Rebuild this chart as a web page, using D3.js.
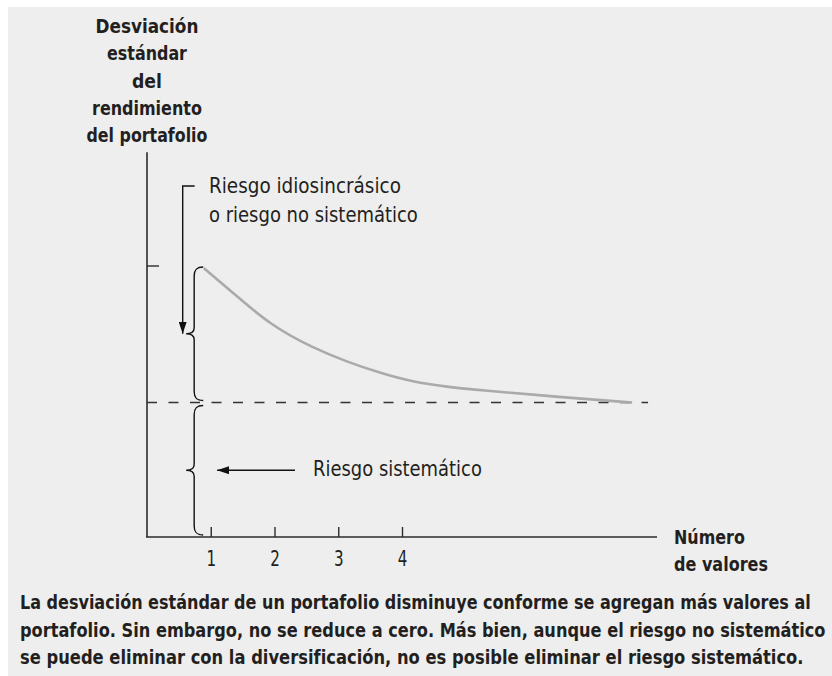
<!DOCTYPE html>
<html lang="es">
<head>
    <meta charset="UTF-8">
    <title>Riesgo y diversificación</title>
    <script src="https://d3js.org/d3.v7.min.js"></script>
    <style>
        body { margin: 0; background: #fff; }
        svg { display: block; }
        text { font-family: "Liberation Sans Narrow", "Arial Narrow", "DejaVu Sans Condensed", "DejaVu Sans", sans-serif; fill: #231f20; }
        .bold { font-weight: bold; }
    </style>
</head>
<body>
    <svg></svg>
    <script>
        // number of securities vs portfolio std deviation
        const numValores = [0.89, 1.30, 1.93, 2.60, 3.14, 3.65, 4.17, 4.71, 5.22, 6.48, 7.61];
        const desviacion = [100, 91.8, 78.8, 70.3, 65.1, 61.0, 57.6, 55.8, 54.6, 52.0, 50];
        const riesgoSistematico = 50;
        const xTicks = [1, 2, 3, 4];
        const yTitle = ["Desviación", "estándar", "del", "rendimiento", "del portafolio"];
        const xTitle = ["Número", "de valores"];
        const idioLabel = ["Riesgo idiosincrásico", "o riesgo no sistemático"];
        const sysLabel = "Riesgo sistemático";
        const caption = [
            "La desviación estándar de un portafolio disminuye conforme se agregan más valores al",
            "portafolio. Sin embargo, no se reduce a cero. Más bien, aunque el riesgo no sistemático",
            "se puede eliminar con la diversificación, no es posible eliminar el riesgo sistemático."
        ];

        const width = 832, height = 676;
        const ink = "#2b2b2b";

        const svg = d3.select("svg")
            .attr("width", width)
            .attr("height", height);

        svg.append("rect")
            .attr("x", 8).attr("y", 7)
            .attr("width", width - 8).attr("height", height - 7)
            .attr("fill", "#eeeeee");

        const x = d3.scaleLinear().domain([0, 8]).range([147, 657]);
        const y = d3.scaleLinear().domain([0, 100]).range([537, 268]);

        // place a text and squeeze it horizontally to the printed (condensed) width
        // anchor: "start" or "middle"
        function putText(str, tx, ty, w, size, cls, anchor) {
            const t = svg.append("text")
                .attr("class", cls || null)
                .style("font-size", size + "px")
                .text(str);
            const len = t.node().getComputedTextLength();
            const k = w / len;
            const x0 = anchor === "middle" ? tx - w / 2 : tx;
            t.attr("transform", `translate(${x0},${ty}) scale(${k},1)`);
            return t;
        }

        // arrowheads
        const defs = svg.append("defs");
        defs.append("marker")
            .attr("id", "head")
            .attr("viewBox", "0 0 12 8")
            .attr("refX", 12).attr("refY", 4)
            .attr("markerWidth", 12).attr("markerHeight", 8)
            .attr("markerUnits", "userSpaceOnUse")
            .attr("orient", "auto")
            .append("path")
            .attr("d", "M0,0 L12,4 L0,8 Z")
            .attr("fill", "#111");

        // axes
        svg.append("line")
            .attr("x1", x(0)).attr("x2", x(0))
            .attr("y1", y(143)).attr("y2", y(0))
            .attr("stroke", ink).attr("stroke-width", 1.6);
        svg.append("line")
            .attr("x1", x(0) - 1).attr("x2", x(8))
            .attr("y1", y(0)).attr("y2", y(0))
            .attr("stroke", ink).attr("stroke-width", 1.6);
        // y tick
        svg.append("line")
            .attr("x1", x(0)).attr("x2", x(0) + 12)
            .attr("y1", y(100) - 2).attr("y2", y(100) - 2)
            .attr("stroke", ink).attr("stroke-width", 1.4);

        const xAxis = svg.append("g")
            .attr("transform", `translate(0,${y(0)})`)
            .call(d3.axisBottom(x).tickValues(xTicks).tickSize(-10).tickPadding(14).tickFormat(d3.format("d")));
        xAxis.select(".domain").remove();
        xAxis.selectAll(".tick line").attr("stroke", ink).attr("stroke-width", 1.4);
        xAxis.selectAll(".tick text")
            .attr("fill", "#231f20")
            .attr("font-family", null)
            .attr("font-size", null)
            .style("font-size", "21px")
            .attr("transform", "scale(0.8,1)")
            .attr("x", 0);

        // systematic risk level
        svg.append("line")
            .attr("x1", x(0)).attr("x2", x(7.86))
            .attr("y1", y(riesgoSistematico)).attr("y2", y(riesgoSistematico))
            .attr("stroke", "#333").attr("stroke-width", 1.5)
            .attr("stroke-dasharray", "10,11.5");

        // portfolio risk curve
        const line = d3.line()
            .x(d => x(d[0]))
            .y(d => y(d[1]))
            .curve(d3.curveBasis);
        svg.append("path")
            .datum(d3.zip(numValores, desviacion))
            .attr("d", line)
            .attr("fill", "none")
            .attr("stroke", "#aaaaab")
            .attr("stroke-width", 2.6);

        // curly braces
        function brace(bx, y0, y1) {
            const ym = (y0 + y1) / 2;
            return `M${bx + 9},${y0} C${bx + 2},${y0} ${bx},${y0 + 3} ${bx},${y0 + 9}` +
                ` L${bx},${ym - 6} C${bx},${ym - 2} ${bx - 3},${ym} ${bx - 8},${ym}` +
                ` C${bx - 3},${ym} ${bx},${ym + 2} ${bx},${ym + 6}` +
                ` L${bx},${y1 - 9} C${bx},${y1 - 3} ${bx + 2},${y1} ${bx + 9},${y1}`;
        }
        const bx = x(0.74);
        svg.append("path")
            .attr("d", brace(bx, y(100) - 1, y(riesgoSistematico) - 2))
            .attr("fill", "none").attr("stroke", "#111").attr("stroke-width", 1.4);
        svg.append("path")
            .attr("d", brace(bx, y(riesgoSistematico) + 3, y(0) - 2))
            .attr("fill", "none").attr("stroke", "#111").attr("stroke-width", 1.4);

        // idiosyncratic risk pointer
        const ax = x(0.56);
        const midIdio = (y(100) - 1 + y(riesgoSistematico) - 2) / 2;
        svg.append("path")
            .attr("d", `M${ax + 12},186 L${ax},186 L${ax},${midIdio}`)
            .attr("fill", "none").attr("stroke", "#111").attr("stroke-width", 1.4)
            .attr("marker-end", "url(#head)");
        const idioW = [192, 209];
        idioLabel.forEach((d, i) => putText(d, 209, 193 + i * 29, idioW[i], 22));

        // systematic risk pointer
        const midSys = (y(riesgoSistematico) + 3 + y(0) - 2) / 2;
        svg.append("line")
            .attr("x1", 295).attr("x2", x(1.1))
            .attr("y1", midSys).attr("y2", midSys)
            .attr("stroke", "#111").attr("stroke-width", 1.4)
            .attr("marker-end", "url(#head)");
        putText(sysLabel, 313, midSys + 6, 169, 21);

        // axis titles
        const yTitleW = [103, 80, 30, 110, 121];
        yTitle.forEach((d, i) => putText(d, 147, 33 + i * 27.3, yTitleW[i], 19, "bold", "middle"));

        const xTitleW = [71, 94];
        xTitle.forEach((d, i) => putText(d, 674, 544 + i * 27, xTitleW[i], 19, "bold"));

        // caption
        const captionW = [791, 806, 784];
        caption.forEach((d, i) => putText(d, 20, 609 + i * 27.5, captionW[i], 19, "bold"));
    </script>
</body>
</html>
